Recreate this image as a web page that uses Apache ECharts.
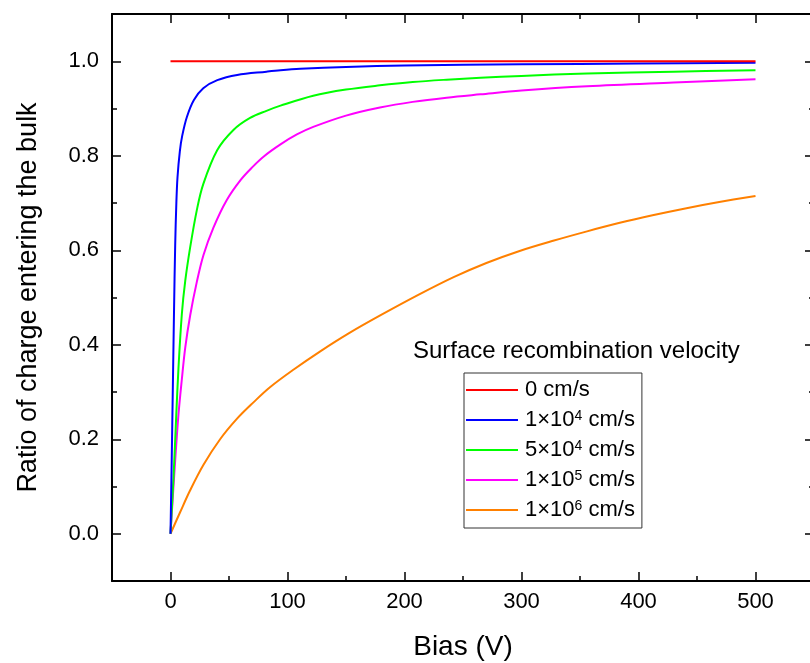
<!DOCTYPE html>
<html>
<head>
<meta charset="utf-8">
<script src="https://cdn.jsdelivr.net/npm/echarts@6/dist/echarts.min.js"></script>
<style>html,body{margin:0;padding:0;background:#fff}#c{width:810px;height:663px}</style>
</head>
<body>
<div id="c"></div>
<script>
// ---- data ----
const seriesNames = ['0 cm/s', '1×10{sup|4} cm/s', '5×10{sup|4} cm/s', '1×10{sup|5} cm/s', '1×10{sup|6} cm/s'];
const seriesColors = ['#ff0000', '#0000ff', '#00ff00', '#ff00ff', '#ff8000'];

const biasS0 = [0, 100, 200, 300, 400, 500];
const ratioS0 = [1, 1, 1, 1, 1, 1];

const biasS1 = [0, 1, 2, 3, 4, 5, 6, 8, 10, 14, 20, 28, 40, 57, 82, 94, 111, 150, 200, 300, 400, 500];
const ratioS1 = [0, 0.15, 0.31, 0.47, 0.61, 0.7, 0.755, 0.81, 0.842, 0.882, 0.918, 0.943, 0.96, 0.971, 0.978, 0.981, 0.984, 0.988, 0.991, 0.9936, 0.995, 0.9966];

const biasS2 = [0, 2.6, 4.9, 6.8, 9.7, 12.6, 16.8, 22.5, 28, 40, 54, 68, 82, 94, 122, 150, 179, 207, 236, 265, 300, 356, 430, 500];
const ratioS2 = [0, 0.12, 0.25, 0.35, 0.465, 0.535, 0.606, 0.685, 0.74, 0.812, 0.855, 0.88, 0.895, 0.906, 0.927, 0.94, 0.949, 0.956, 0.961, 0.965, 0.969, 0.974, 0.978, 0.981];

const biasS3 = [0, 4, 6.8, 9.7, 12.6, 16.8, 22.5, 28.2, 36.7, 48, 60, 70, 80, 94, 108, 122, 150, 179, 207, 236, 265, 300, 356, 430, 500];
const ratioS3 = [0, 0.155, 0.252, 0.327, 0.394, 0.462, 0.533, 0.59, 0.648, 0.706, 0.749, 0.776, 0.799, 0.824, 0.845, 0.861, 0.885, 0.902, 0.914, 0.923, 0.93, 0.938, 0.947, 0.955, 0.962];

const biasS4 = [0, 8.3, 16.8, 28.2, 42.4, 56.7, 70.9, 85, 105, 128, 153, 180, 213, 242, 270, 299, 327, 356, 384, 412, 441, 469, 500];
const ratioS4 = [0, 0.046, 0.092, 0.146, 0.2, 0.243, 0.278, 0.31, 0.347, 0.386, 0.425, 0.463, 0.507, 0.543, 0.573, 0.599, 0.62, 0.64, 0.658, 0.674, 0.689, 0.702, 0.715];

const biasList = [biasS0, biasS1, biasS2, biasS3, biasS4];
const ratioList = [ratioS0, ratioS1, ratioS2, ratioS3, ratioS4];

const xMin = -50, xMax = 550;
const yMin = -0.1, yMax = 1.1;

const xTitle = 'Bias (V)';
const yTitle = 'Ratio of charge entering the bulk';
const legendTitle = 'Surface recombination velocity';

// ---- chart ----
const FONT = '"Liberation Sans", Arial, sans-serif';
const chart = echarts.init(document.getElementById('c'), null, { renderer: 'canvas' });

function axisBase(pos, showLabel, isX) {
  return {
    type: 'value',
    position: pos,
    min: isX ? xMin : yMin,
    max: isX ? xMax : yMax,
    splitNumber: 6,
    axisLine: { show: true, onZero: false, lineStyle: { color: '#000', width: 2 } },
    axisTick: { show: true, inside: true, length: 9, lineStyle: { color: '#000', width: 1.5 } },
    minorTick: { show: true, splitNumber: 2, length: 5, lineStyle: { color: '#000', width: 1.5 } },
    splitLine: { show: false },
    minorSplitLine: { show: false },
    axisLabel: {
      show: showLabel,
      showMinLabel: false,
      showMaxLabel: false,
      color: '#000',
      fontSize: 22,
      fontFamily: FONT,
      margin: isX ? 10 : 13,
      formatter: isX ? (v => String(Math.round(v))) : (v => v.toFixed(1))
    }
  };
}

const xBottom = Object.assign(axisBase('bottom', true, true), {
  name: xTitle, nameLocation: 'middle', nameGap: 52,
  nameTextStyle: { fontSize: 28, color: '#000', fontFamily: FONT }
});
const xTop = axisBase('top', false, true);
const yLeft = Object.assign(axisBase('left', true, false), {
  name: yTitle, nameLocation: 'middle', nameGap: 70,
  nameTextStyle: { fontSize: 27, color: '#000', fontFamily: FONT }
});
const yRight = axisBase('right', false, false);

const series = seriesNames.map((n, i) => ({
  name: n,
  type: 'line',
  xAxisIndex: 0,
  yAxisIndex: 0,
  data: biasList[i].map((b, j) => [b, ratioList[i][j]]),
  showSymbol: false,
  symbol: 'none',
  smooth: 0.35,
  lineStyle: { color: seriesColors[i], width: 2 },
  itemStyle: { color: seriesColors[i] },
  z: 10 - i,
  silent: true
}));

chart.setOption({
  animation: false,
  backgroundColor: '#fff',
  textStyle: { fontFamily: FONT },
  grid: { left: 112, top: 14, width: 702, height: 567, containLabel: false, outerBoundsMode: 'none' },
  title: {
    text: legendTitle,
    left: 413, top: 339, padding: 0,
    textStyle: { fontSize: 24, fontWeight: 'normal', color: '#000', fontFamily: FONT }
  },
  legend: {
    orient: 'vertical',
    left: 464, top: 373,
    padding: [6, 7, 7, 2],
    itemGap: 8,
    itemWidth: 52,
    itemHeight: 2,
    itemStyle: { borderWidth: 0 },
    icon: 'rect',
    borderColor: '#333',
    borderWidth: 1,
    borderRadius: 0,
    selectedMode: false,
    data: seriesNames,
    textStyle: {
      fontSize: 22, lineHeight: 22, color: '#000', fontFamily: FONT,
      padding: [0, 0, 0, 2],
      rich: {
        sup: { fontSize: 14, lineHeight: 14, verticalAlign: 'top', color: '#000', fontFamily: FONT }
      }
    }
  },
  xAxis: [xBottom, xTop],
  yAxis: [yLeft, yRight],
  series: series
});
</script>
</body>
</html>
